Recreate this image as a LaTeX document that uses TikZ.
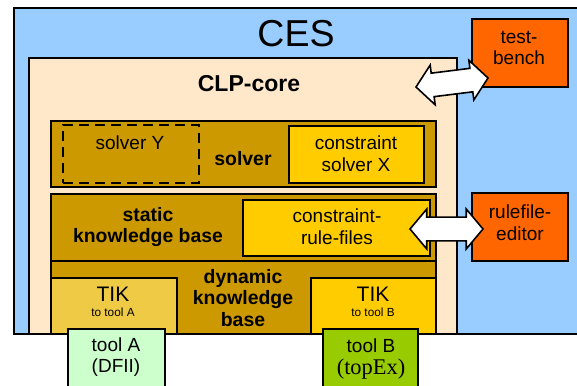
\documentclass[tikz,border=0pt]{standalone}
\usepackage{fontspec}
\setmainfont{Liberation Sans}
\newfontfamily\serifrm{Liberation Serif}
\usetikzlibrary{calc, shapes.arrows, positioning}

\definecolor{cesblue}{HTML}{99CCFF}
\definecolor{clppeach}{HTML}{FFE7C9}
\definecolor{kbgold}{HTML}{CC9900}
\definecolor{boxyellow}{HTML}{FFCC00}
\definecolor{tikgold}{HTML}{EECA45}
\definecolor{toolgreen}{HTML}{CCFFCC}
\definecolor{toollime}{HTML}{99CC00}
\definecolor{extorange}{HTML}{FF6600}

\tikzset{
  box/.style={draw, line width=1.6pt, inner sep=0pt, outer sep=0pt, anchor=north west},
  txt/.style={font=\fontsize{19}{21.7}\selectfont, align=center, inner sep=0pt},
  btxt/.style={font=\bfseries\fontsize{19.4}{21.7}\selectfont, align=center, inner sep=0pt},
  fatarrow/.style={double arrow, draw, fill=white, line width=1.6pt, inner xsep=0pt,
    inner ysep=9.5pt, minimum width=40pt, double arrow tip angle=100, outer sep=0pt}
}

\begin{document}
\begin{tikzpicture}[x=1pt, y=-1pt]
    \useasboundingbox (0,0) rectangle (577,385);
    \clip (0,0) rectangle (577,385);

    % CES und CLP-core
    \node[box, fill=cesblue, minimum width=600pt, minimum height=326pt] (ces) at (14,8) {};
    \node[txt, font=\fontsize{37.5}{40}\selectfont] (cestitle) at (296,34) {CES};
    \node[box, fill=clppeach, minimum width=428pt, minimum height=276pt] (clp) at (29,58) {};
    \node[btxt, font=\bfseries\fontsize{23}{25}\selectfont] (clptitle) at (249,84) {CLP-core};

    % solver
    \node[box, fill=kbgold, minimum width=385pt, minimum height=66pt] (solver) at (51,121) {};
    \node[box, draw=black, dash pattern=on 10pt off 6pt, minimum width=136pt, minimum height=58pt] (solvery) at (63,125) {};
    \node[txt] (solverytext) at (130,143) {solver Y};
    \node[btxt] (solvertext) at (243,159) {solver};
    \node[box, fill=boxyellow, minimum width=135pt, minimum height=57pt] (solverx) at (289,126) {};
    \node[txt] (solverxtext) at (356,154) {constraint\\solver X};

    % static knowledge base
    \node[box, fill=kbgold, minimum width=385pt, minimum height=67pt] (static) at (51,194) {};
    \node[btxt] (statictext) at (148,227) {static\\knowledge base};
    \node[box, fill=boxyellow, minimum width=187pt, minimum height=56pt] (rules) at (243,200) {};
    \node[txt] (rulestext) at (337,227) {constraint-\\rule-files};

    % dynamic knowledge base
    \node[box, fill=kbgold, minimum width=385pt, minimum height=73pt] (dynamic) at (51,261) {};
    \node[btxt] (dynamictext) at (243,298) {dynamic\\knowledge\\base};
    \node[box, fill=tikgold, minimum width=126pt, minimum height=56pt] (tika) at (51,278) {};
    \node[txt, font=\fontsize{21}{22}\selectfont] (tikatext) at (113,294) {TIK};
    \node[txt, font=\fontsize{11.8}{13}\selectfont] (tikasub) at (113,312) {to tool A};
    \node[box, fill=boxyellow, minimum width=125pt, minimum height=56pt] (tikb) at (311,278) {};
    \node[txt, font=\fontsize{21}{22}\selectfont] (tikbtext) at (373,294) {TIK};
    \node[txt, font=\fontsize{11.8}{13}\selectfont] (tikbsub) at (373,312) {to tool B};

    % Werkzeuge
    \node[box, fill=toolgreen, minimum width=97pt, minimum height=70pt] (toola) at (68,329) {};
    \node[txt] (toolatext) at (116,357) {tool A\\(DFII)};
    \node[box, fill=toollime, minimum width=95pt, minimum height=70pt] (toolb) at (323,329) {};
    \node[txt] (toolbtext) at (371,346) {tool B};
    \node[txt, font=\serifrm\fontsize{22.4}{24}\selectfont] (toolbsub) at (371,369) {(topEx)};

    % externe Werkzeuge
    \node[box, fill=extorange, minimum width=96pt, minimum height=68pt] (bench) at (472,19) {};
    \node[txt] (benchtext) at (519,48) {test-\\bench};
    \node[box, fill=extorange, minimum width=96pt, minimum height=68pt] (editor) at (472,193) {};
    \node[txt] (editortext) at (520,223) {rulefile-\\editor};

    % Doppelpfeile
    \coordinate (clpend) at (416,87);
    \coordinate (benchend) at (488,78);
    \coordinate (rulesend) at (410,229);
    \coordinate (editorend) at (483,229);
    \path let \p1=($(benchend)-(clpend)$), \n1={atan2(\y1,\x1)}, \n2={veclen(\x1,\y1)} in
        node[fatarrow, rotate=\n1, minimum height=\n2] (arrowbench) at ($(clpend)!0.5!(benchend)$) {};
    \path let \p1=($(editorend)-(rulesend)$), \n1={atan2(\y1,\x1)}, \n2={veclen(\x1,\y1)} in
        node[fatarrow, rotate=\n1, minimum height=\n2] (arroweditor) at ($(rulesend)!0.5!(editorend)$) {};
\end{tikzpicture}
\end{document}
